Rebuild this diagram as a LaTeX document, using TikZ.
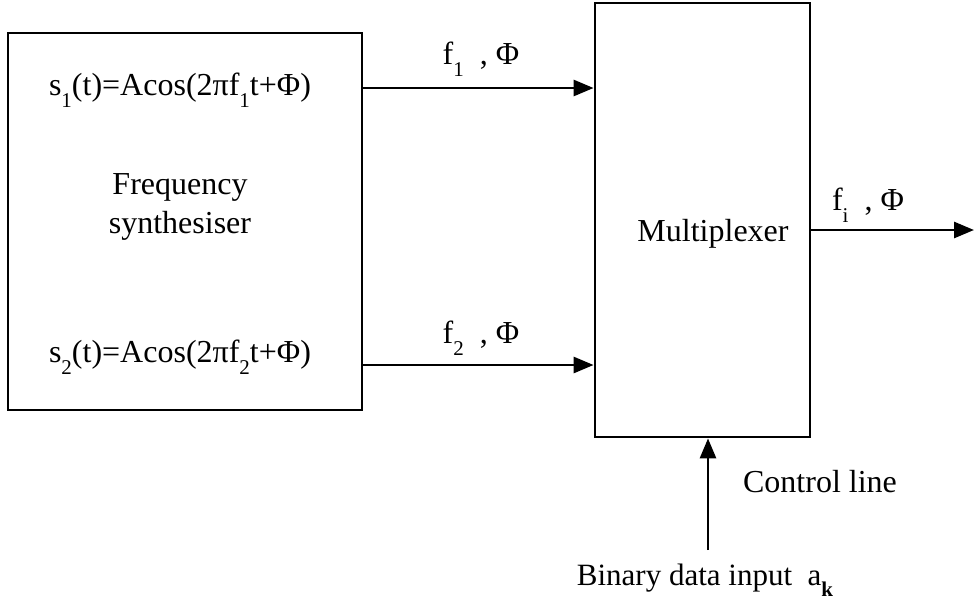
\documentclass[tikz,border=0pt]{standalone}
\usepackage{fontspec}
\setmainfont{Liberation Serif}
\usetikzlibrary{arrows.meta}
% subscript set low, as in the typewritten formulas
\newcommand{\lowsub}[1]{\raisebox{-0.36em}{\fontsize{21}{21}\selectfont #1}}
\begin{document}
\begin{tikzpicture}[x=1pt,y=-1pt,line width=2.8pt,
  blk/.style={draw,rectangle,inner sep=0pt},
  sig/.style={-{Triangle[length=20pt,width=16pt]}},
  lbl/.style={font=\fontsize{32}{39}\selectfont,inner sep=0pt,align=center}]
\useasboundingbox (0,0) rectangle (974,603);

% blocks
\node[blk,minimum width=354pt,minimum height=377pt] (syn) at (185,221.5) {};
\node[blk,minimum width=215pt,minimum height=434pt] (mux) at (702.5,220) {};

% texts inside the synthesiser
\node[lbl] (s1) at (180,90) {s\lowsub{1}(t)=Acos(2πf\lowsub{1}t+Φ)};
\node[lbl] (s2) at (180,357) {s\lowsub{2}(t)=Acos(2πf\lowsub{2}t+Φ)};
\node[lbl] (fs) at (180,207) {Frequency\\synthesiser};
\node[lbl] (mx) at (713,234) {Multiplexer};

% connectors
\coordinate (out) at (974,230);
\coordinate (bin) at (708,550);
\draw[sig] (syn.east |- 0,88) -- (mux.west |- 0,88);
\draw[sig] (syn.east |- 0,365) -- (mux.west |- 0,365);
\draw[sig] (mux.east |- out) -- (out);
\draw[sig] (bin) -- (mux.south -| bin);

% connector labels
\node[lbl] (l1) at (481,59) {f\lowsub{1} \ , Φ};
\node[lbl] (l2) at (481,338) {f\lowsub{2} \ , Φ};
\node[lbl] (li) at (868,205) {f\lowsub{i} \ , Φ};
\node[lbl] (cl) at (820,482) {Control line};
\node[lbl,font=\fontsize{31}{37}\selectfont] (bd) at (705,580) {Binary data input \ a\lowsub{\textbf{k}}};
\end{tikzpicture}
\end{document}
